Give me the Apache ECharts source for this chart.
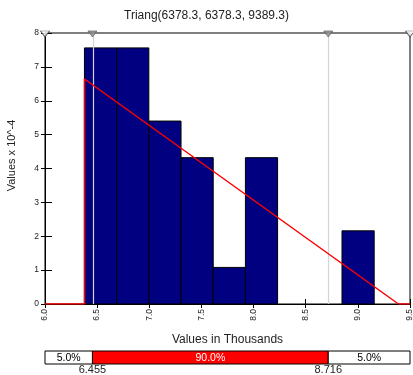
<!DOCTYPE html>
<html><head><meta charset="utf-8">
<script src="https://cdn.jsdelivr.net/npm/echarts@6/dist/echarts.min.js"></script>
<style>html,body{margin:0;padding:0;background:#fff}#c{width:413px;height:375px}</style>
</head><body><div id="c"></div>
<script>
// ---- data ----
var titleText = 'Triang(6378.3, 6378.3, 9389.3)';
var binStarts = [6.3783, 6.6870, 6.9957, 7.3044, 7.6131, 7.9218, 8.2305, 8.5392, 8.8479];
var binWidth = 0.3087;
var densities = [7.56, 7.56, 5.40, 4.32, 1.08, 4.32, 0, 0, 2.16];
var triangX = [6.0, 6.3783, 6.3783, 9.3893, 9.5];
var triangY = [0, 0, 6.642, 0, 0];
var markerX = [6.455, 8.716];
var edgeX = [6.0, 9.5];
var bandBounds = [6.0, 6.455, 8.716, 9.5];
var bandPct = ['5.0%', '90.0%', '5.0%'];
var bandColors = ['#ffffff', '#ff0000', '#ffffff'];
var bandTextColors = ['#000000', '#ffffff', '#000000'];
var xTicks = [6.0, 6.5, 7.0, 7.5, 8.0, 8.5, 9.0, 9.5];
var yTicks = [0, 1, 2, 3, 4, 5, 6, 7, 8];

var FONT = '"Liberation Sans", Arial, sans-serif';
var chart = echarts.init(document.getElementById('c'), null, {renderer: 'canvas'});

var histData = binStarts.map(function (s, i) { return [s, s + binWidth, densities[i]]; });
var triData = triangX.map(function (x, i) { return [x, triangY[i]]; });
var bandData = bandPct.map(function (p, i) { return [bandBounds[i], bandBounds[i + 1], i]; });

var option = {
  animation: false,
  title: {
    text: titleText, left: 'center', top: 5,
    textStyle: {fontFamily: FONT, fontSize: 12, fontWeight: 'normal', color: '#222'}
  },
  grid: [
    {left: 45, right: 3, top: 33, bottom: 71, show: true, borderColor: '#000', borderWidth: 1,
      backgroundColor: 'transparent', outerBoundsMode: 'none', containLabel: false},
    {left: 45, right: 3, top: 351, height: 13, outerBoundsMode: 'none', containLabel: false}
  ],
  xAxis: [
    {
      type: 'value', gridIndex: 0, min: 6.0, max: 9.5, interval: 0.5,
      name: 'Values in Thousands', nameLocation: 'middle', nameGap: 30,
      nameTextStyle: {fontFamily: FONT, fontSize: 12, color: '#222'},
      axisLine: {show: true, lineStyle: {color: '#000'}},
      axisTick: {show: true, inside: false, length: 4, lineStyle: {color: '#000'}},
      axisLabel: {rotate: 90, fontFamily: FONT, fontSize: 8.5, color: '#222', margin: 5,
        formatter: function (v) { return v.toFixed(1); }},
      splitLine: {show: false}
    },
    {type: 'value', gridIndex: 1, min: 6.0, max: 9.5, show: false},
    {
      type: 'value', gridIndex: 0, min: 6.0, max: 9.5, interval: 0.5, position: 'bottom',
      axisLine: {show: false}, axisLabel: {show: false}, splitLine: {show: false},
      axisTick: {show: true, inside: true, length: 5, lineStyle: {color: '#000'}}
    }
  ],
  yAxis: [
    {
      type: 'value', gridIndex: 0, min: 0, max: 8, interval: 1,
      name: 'Values x 10^-4', nameLocation: 'middle', nameGap: 28,
      nameTextStyle: {fontFamily: FONT, fontSize: 11, color: '#222', padding: [0, 0, 0, 26]},
      axisLine: {show: true, lineStyle: {color: '#000'}},
      axisTick: {show: true, inside: false, length: 4, lineStyle: {color: '#000'}},
      axisLabel: {fontFamily: FONT, fontSize: 8.5, color: '#222', margin: 6},
      splitLine: {show: false}
    },
    {type: 'value', gridIndex: 1, min: 0, max: 1, show: false},
    {
      type: 'value', gridIndex: 0, min: 0, max: 8, interval: 1, position: 'left',
      axisLine: {show: false}, axisLabel: {show: false}, splitLine: {show: false},
      axisTick: {show: true, inside: true, length: 7, lineStyle: {color: '#000'}}
    }
  ],
  series: [
    {
      type: 'custom', xAxisIndex: 0, yAxisIndex: 0, data: histData, z: 2,
      renderItem: function (params, api) {
        var p0 = api.coord([api.value(0), api.value(2)]);
        var p1 = api.coord([api.value(1), 0]);
        if (api.value(2) <= 0) return null;
        return {type: 'rect', shape: {x: p0[0], y: p0[1], width: p1[0] - p0[0], height: p1[1] - p0[1]},
          style: {fill: '#000080', stroke: '#000', lineWidth: 1}};
      }
    },
    {
      type: 'line', xAxisIndex: 0, yAxisIndex: 0, z: 4,
      data: markerX.map(function (x) { return [x, 0]; }), symbol: 'none', lineStyle: {width: 0},
      markLine: {silent: true, symbol: 'none', label: {show: false},
        lineStyle: {color: '#d4d4d4', width: 1.2, type: 'solid'},
        data: markerX.map(function (x) { return {xAxis: x}; })}
    },
    {
      type: 'line', xAxisIndex: 0, yAxisIndex: 0, data: triData, z: 5,
      symbol: 'none', lineStyle: {color: '#ff0000', width: 1.5}
    },
    {
      type: 'scatter', xAxisIndex: 0, yAxisIndex: 0, z: 6,
      data: markerX.map(function (x) { return [x, 8]; }),
      symbol: 'triangle', symbolRotate: 180, symbolSize: [9, 6], symbolOffset: [0, 1],
      itemStyle: {color: '#8c8c8c', borderColor: '#555', borderWidth: 0.8}
    },
    {
      type: 'scatter', xAxisIndex: 0, yAxisIndex: 0, z: 6,
      data: edgeX.map(function (x) { return [x, 8]; }),
      symbol: 'triangle', symbolRotate: 180, symbolSize: [9, 6], symbolOffset: [0, 1],
      itemStyle: {color: '#fff', borderColor: '#444', borderWidth: 0.9}
    },
    {
      type: 'custom', xAxisIndex: 1, yAxisIndex: 1, data: bandData, z: 3,
      renderItem: function (params, api) {
        var i = api.value(2);
        var p0 = api.coord([api.value(0), 1]);
        var p1 = api.coord([api.value(1), 0]);
        var children = [
          {type: 'rect', shape: {x: p0[0], y: p0[1], width: p1[0] - p0[0], height: p1[1] - p0[1]},
            style: {fill: bandColors[i], stroke: '#000', lineWidth: 1}},
          {type: 'text', style: {text: bandPct[i], x: (p0[0] + p1[0]) / 2, y: (p0[1] + p1[1]) / 2 + 0.5,
            textAlign: 'center', textVerticalAlign: 'middle', fill: bandTextColors[i], font: '10.5px ' + FONT}}
        ];
        if (i > 0) {
          children.push({type: 'text', style: {text: bandBounds[i].toFixed(3), x: p0[0], y: p1[1] + 6,
            textAlign: 'center', textVerticalAlign: 'middle', fill: '#222', font: '11px ' + FONT}});
        }
        return {type: 'group', children: children};
      }
    }
  ]
};
chart.setOption(option);
</script>
</body></html>
